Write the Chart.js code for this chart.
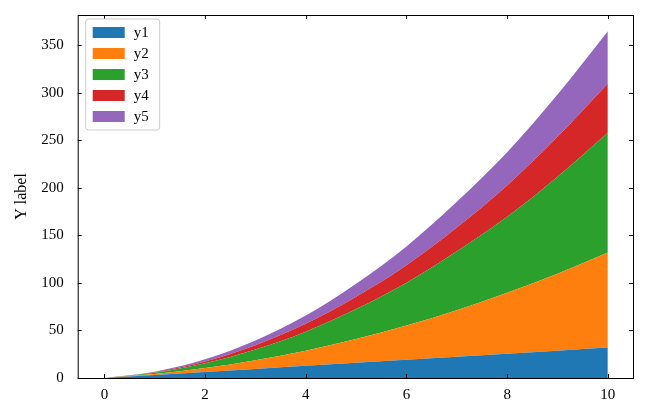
<!DOCTYPE html>
<html><head><meta charset="utf-8">
<script src="https://cdn.jsdelivr.net/npm/chart.js@4"></script>
<style>body{margin:0;background:#fff}#w{width:650px;height:400px}</style>
</head><body><div id="w"><canvas id="c"></canvas></div>
<script>
const xs=[0,1,2,3,4,5,6,7,8,9,10];
const y1=[0,3.2,6.4,9.6,12.8,16,19.2,22.4,25.6,28.8,32];
const y2=[0,1,4,9,16,25,36,49,64,81,100];
const y3=[0,1.3,5,11.3,20,31.5,45,62,80,102,126];
const y4=[0,0.5,2,4.6,8.2,13,18.5,25,33,42,52];
const y5=[0,0.6,2.2,5,8.8,13.8,19.8,27,35,44.5,55];
const names=['y1','y2','y3','y4','y5'];
const colors=['#1f77b4','#ff7f0e','#2ca02c','#d62728','#9467bd'];
const series=[y1,y2,y3,y4,y5];
const F='"Liberation Serif", serif';
const ds=series.map((s,i)=>({label:names[i],data:s.map((v,j)=>({x:xs[j],y:v})),backgroundColor:colors[i],borderWidth:0,pointRadius:0,fill:i===0?'origin':'-1',cubicInterpolationMode:'monotone'}));
const frame={id:'frame',afterDraw(ch){const c=ch.ctx,a=ch.chartArea;c.save();c.strokeStyle='#000';c.lineWidth=1;c.strokeRect(a.left+0.5,a.top+0.5,a.right-a.left,a.bottom-a.top);
const sx=ch.scales.x,sy=ch.scales.y;
sx.ticks.forEach(t=>{const p=Math.round(sx.getPixelForValue(t.value))+0.5;c.beginPath();c.moveTo(p,a.bottom);c.lineTo(p,a.bottom-4);c.moveTo(p,a.top);c.lineTo(p,a.top+4);c.stroke();});
sy.ticks.forEach(t=>{const p=Math.round(sy.getPixelForValue(t.value))+0.5;c.beginPath();c.moveTo(a.left,p);c.lineTo(a.left+4,p);c.moveTo(a.right,p);c.lineTo(a.right-4,p);c.stroke();});
const lx=a.left+8,ly=a.top+4,h=21;c.fillStyle='#fff';c.strokeStyle='#ccc';c.beginPath();c.roundRect(lx,ly,74,5*h+6,3);c.fill();c.stroke();
c.font='15px '+F;c.textBaseline='middle';
names.forEach((n,i)=>{c.fillStyle=colors[i];c.fillRect(lx+7,ly+8+i*h,32,11);c.fillStyle='#000';c.fillText(n,lx+48,ly+14+i*h);});
c.restore();}};
new Chart(document.getElementById('c'),{type:'line',data:{datasets:ds},plugins:[frame],
options:{responsive:true,maintainAspectRatio:false,animation:false,layout:{padding:{top:-9,right:17,bottom:-4,left:8}},
plugins:{legend:{display:false},tooltip:{enabled:false}},
scales:{x:{type:'linear',min:-0.53,max:10.5,afterBuildTicks(s){s.ticks=[0,2,4,6,8,10].map(v=>({value:v}));},grid:{display:false},border:{display:false},ticks:{color:'#000',font:{family:F,size:15},padding:0}},
y:{stacked:true,min:0,max:382,afterBuildTicks(s){s.ticks=[0,50,100,150,200,250,300,350].map(v=>({value:v}));},grid:{display:false},border:{display:false},ticks:{color:'#000',font:{family:F,size:15},padding:6},title:{display:true,text:'Y label',color:'#000',font:{family:F,size:16}}}}}});
</script></body></html>
